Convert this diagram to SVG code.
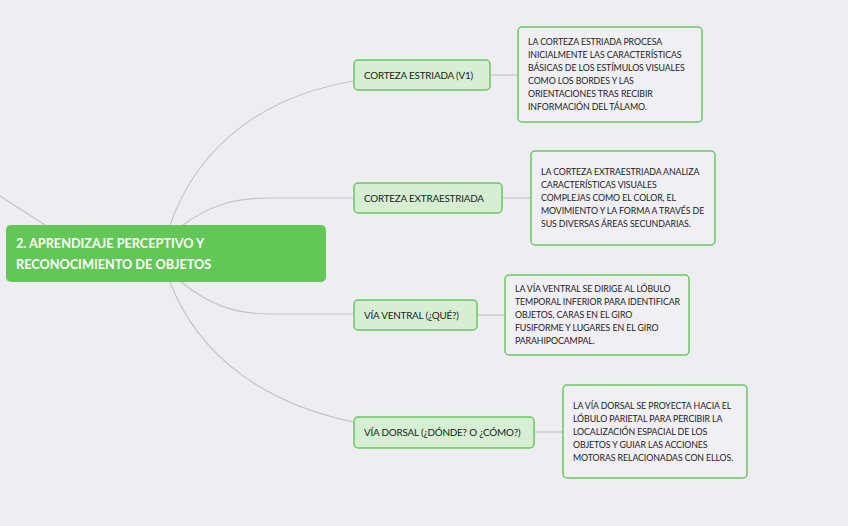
<svg xmlns="http://www.w3.org/2000/svg" width="848" height="526" viewBox="0 0 848 526">
<style>
.bg{fill:#eeedf2}
.root{fill:#63c757}
.rt{font-family:Lato,"Open Sans",sans-serif;font-weight:bold;font-size:12.7px;fill:#ffffff}
.child{fill:#d6efd3;stroke:#6ac862;stroke-width:1.5}
.ct{font-family:Lato,"Open Sans",sans-serif;font-size:9.9px;letter-spacing:-0.2px;fill:#222222}
.desc{fill:#f0eff4;stroke:#6ac862;stroke-width:1.5}
.dt{font-family:Lato,"Open Sans",sans-serif;font-size:8.8px;letter-spacing:-0.1px;fill:#222222}
.ln{fill:none;stroke:#c4c3c8;stroke-width:1.2}
</style>
<rect class="bg" x="0" y="0" width="848" height="526"/>
<g id="connectors">
<path class="ln" d="M0,196 L45,225"/>
<path class="ln" d="M170,225 C200,140 270,95 354,81"/>
<path class="ln" d="M183,225 C210,205 235,198 270,198 L354,198"/>
<path class="ln" d="M181,282 C210,305 235,314 270,314 L354,314"/>
<path class="ln" d="M170,282 C200,360 270,405 354,422"/>
<path class="ln" d="M490,75 L518,75"/>
<path class="ln" d="M502,198 L531,198"/>
<path class="ln" d="M477,315 L505,315"/>
<path class="ln" d="M534,432 L563,432"/>
</g>
<g id="root">
<rect class="root" x="6" y="225" width="320" height="57" rx="5"/>
<text class="rt" x="16" y="248">2. APRENDIZAJE PERCEPTIVO Y</text>
<text class="rt" x="16" y="269">RECONOCIMIENTO DE OBJETOS</text>
</g>
<g id="n1">
<rect class="child" x="354" y="60" width="136" height="30" rx="4"/>
<text class="ct" x="364" y="79">CORTEZA ESTRIADA (V1)</text>
</g>
<g id="d1">
<rect class="desc" x="518" y="27" width="184" height="95" rx="4"/>
<text class="dt" x="528" y="45">LA CORTEZA ESTRIADA PROCESA</text>
<text class="dt" x="528" y="58">INICIALMENTE LAS CARACTERÍSTICAS</text>
<text class="dt" x="528" y="71">BÁSICAS DE LOS ESTÍMULOS VISUALES</text>
<text class="dt" x="528" y="84">COMO LOS BORDES Y LAS</text>
<text class="dt" x="528" y="97">ORIENTACIONES TRAS RECIBIR</text>
<text class="dt" x="528" y="110">INFORMACIÓN DEL TÁLAMO.</text>
</g>
<g id="n2">
<rect class="child" x="354" y="183" width="148" height="30" rx="4"/>
<text class="ct" x="364" y="202">CORTEZA EXTRAESTRIADA</text>
</g>
<g id="d2">
<rect class="desc" x="531" y="151" width="184" height="94" rx="4"/>
<text class="dt" x="541" y="175">LA CORTEZA EXTRAESTRIADA ANALIZA</text>
<text class="dt" x="541" y="188">CARACTERÍSTICAS VISUALES</text>
<text class="dt" x="541" y="201">COMPLEJAS COMO EL COLOR, EL</text>
<text class="dt" x="541" y="214">MOVIMIENTO Y LA FORMA A TRAVÉS DE</text>
<text class="dt" x="541" y="227">SUS DIVERSAS ÁREAS SECUNDARIAS.</text>
</g>
<g id="n3">
<rect class="child" x="354" y="300" width="123" height="30" rx="4"/>
<text class="ct" x="364" y="319">VÍA VENTRAL (¿QUÉ?)</text>
</g>
<g id="d3">
<rect class="desc" x="505" y="275" width="184" height="80" rx="4"/>
<text class="dt" x="515" y="292">LA VÍA VENTRAL SE DIRIGE AL LÓBULO</text>
<text class="dt" x="515" y="305">TEMPORAL INFERIOR PARA IDENTIFICAR</text>
<text class="dt" x="515" y="318">OBJETOS, CARAS EN EL GIRO</text>
<text class="dt" x="515" y="331">FUSIFORME Y LUGARES EN EL GIRO</text>
<text class="dt" x="515" y="344">PARAHIPOCAMPAL.</text>
</g>
<g id="n4">
<rect class="child" x="354" y="417" width="180" height="31" rx="4"/>
<text class="ct" x="364" y="436">VÍA DORSAL (¿DÓNDE? O ¿CÓMO?)</text>
</g>
<g id="d4">
<rect class="desc" x="563" y="385" width="184" height="93" rx="4"/>
<text class="dt" x="573" y="409">LA VÍA DORSAL SE PROYECTA HACIA EL</text>
<text class="dt" x="573" y="422">LÓBULO PARIETAL PARA PERCIBIR LA</text>
<text class="dt" x="573" y="435">LOCALIZACIÓN ESPACIAL DE LOS</text>
<text class="dt" x="573" y="448">OBJETOS Y GUIAR LAS ACCIONES</text>
<text class="dt" x="573" y="461">MOTORAS RELACIONADAS CON ELLOS.</text>
</g>
</svg>
